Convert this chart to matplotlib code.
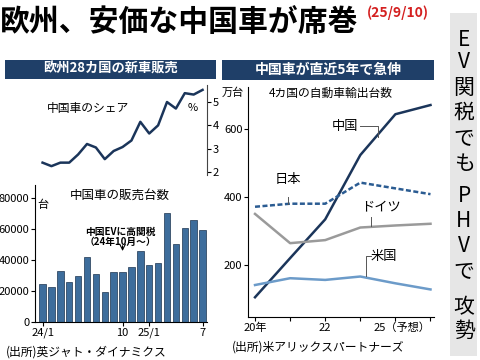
import matplotlib
matplotlib.use("Agg")
import matplotlib.pyplot as plt
from matplotlib.patches import Rectangle

plt.rcParams['font.family'] = ['Noto Sans CJK JP', 'DejaVu Sans']

# --- data ---
share_pct = [2.4, 2.25, 2.4, 2.4, 2.75, 3.2, 3.05, 2.55, 2.9, 3.07, 3.35, 4.15,
             3.65, 4.0, 5.0, 4.72, 5.38, 5.32, 5.52]
sales = [24500, 22500, 33000, 26000, 30000, 42000, 31000, 19500, 32000, 32500,
         35500, 45500, 37000, 38000, 70500, 50500, 60500, 65500, 59500]
month_ticks = [0, 9, 12, 18]
month_labels = ['24/1', '10', '25/1', '7']

years = [2020, 2021, 2022, 2023, 2024, 2025]
china = [105, 220, 334, 523, 643, 670]
japan = [371, 380, 380, 442, 425, 408]
germany = [350, 264, 273, 310, 316, 321]
usa = [141, 161, 156, 166, 146, 128]
year_labels = ['20年', '', '22', '', '', '25（予想）']

W, H = 480, 360
fig = plt.figure(figsize=(4.8, 3.6), dpi=100)


def box(x0, y0, x1, y1):
    # pixel box (top-left origin) -> figure rect
    return [x0 / W, 1 - y1 / H, (x1 - x0) / W, (y1 - y0) / H]


def ftext(x, y, s, **kw):
    fig.text(x / W, 1 - y / H, s, **kw)


navy = '#1b355a'
header = '#1f3f68'
barc = '#3d6d9c'

# title
ftext(0, 22, '欧州、安価な中国車が席巻', fontsize=21.5, fontweight='bold', va='center', ha='left')
ftext(367, 13, '(25/9/10)', fontsize=10, fontweight='bold', color='#d42020', va='center', ha='left')

# vertical side box
fig.patches.append(Rectangle((450 / W, 1 - 356 / H), 27 / W, 343 / H,
                             transform=fig.transFigure, facecolor='#e6e6e6', edgecolor='none'))
side_chars = ['E', 'V', '関', '税', 'で', 'も', 'P', 'H', 'V', 'で', '攻', '勢']
side_y = [40, 62, 88, 113, 139, 164, 196, 221, 246, 272, 307, 331]
for ch, yy in zip(side_chars, side_y):
    ftext(464, yy, ch, fontsize=15, ha='center', va='center')

# header bars
fig.patches.append(Rectangle((5 / W, 1 - 79 / H), 211 / W, 19 / H,
                             transform=fig.transFigure, facecolor=header, edgecolor='none'))
ftext(110, 69, '欧州28カ国の新車販売', fontsize=9.5, fontweight='bold', color='white', ha='center', va='center')
fig.patches.append(Rectangle((222 / W, 1 - 80 / H), 212 / W, 20 / H,
                             transform=fig.transFigure, facecolor=header, edgecolor='none'))
ftext(328, 70, '中国車が直近5年で急伸', fontsize=10, fontweight='bold', color='white', ha='center', va='center')

# --- share line ---
ax1 = fig.add_axes(box(35, 85, 207, 175))
ax1.plot(range(len(share_pct)), share_pct, color=navy, lw=1.8)
ax1.set_xlim(-0.85, 18.5)
ax1.set_ylim(1.87, 5.73)
for s in ['top', 'left', 'bottom']:
    ax1.spines[s].set_visible(False)
ax1.spines['right'].set_color('#444444')
ax1.spines['right'].set_linewidth(0.8)
ax1.yaxis.tick_right()
ax1.set_yticks([2, 3, 4, 5])
ax1.tick_params(axis='y', labelsize=8, length=3, pad=1, width=0.8)
ax1.set_xticks([])
ax1.patch.set_alpha(0)
ftext(47, 108, '中国車のシェア', fontsize=8.5, va='center', ha='left')
ftext(193, 108, '%', fontsize=8, va='center', ha='center')

# --- sales bars ---
ax2 = fig.add_axes(box(35, 185, 207, 322))
ax2.bar(range(len(sales)), sales, width=0.72, color=barc, edgecolor='#1d3550', linewidth=0.5)
ax2.set_xlim(-0.85, 18.5)
ax2.set_ylim(0, 88400)
ax2.spines['top'].set_visible(False)
ax2.spines['right'].set_visible(False)
ax2.set_yticks([0, 20000, 40000, 60000, 80000])
ax2.set_xticks(month_ticks)
ax2.set_xticklabels(month_labels)
ax2.tick_params(labelsize=8, length=3, pad=1, width=0.8)
ax2.patch.set_alpha(0)
ftext(43, 205, '台', fontsize=8, va='center', ha='center')
ftext(120, 195, '中国車の販売台数', fontsize=9, va='center', ha='center')
ftext(120, 232, '中国EVに高関税', fontsize=7, fontweight='bold', va='center', ha='center')
ftext(120, 242, '（24年10月～）', fontsize=7, fontweight='bold', va='center', ha='center')
ax2.annotate('', xy=(9, 44000), xytext=(9, 51000),
             arrowprops=dict(arrowstyle='->', color='black', lw=0.8))
ftext(6, 352, '(出所)英ジャト・ダイナミクス', fontsize=8.5, va='center', ha='left')

# --- exports ---
ax3 = fig.add_axes(box(248, 87, 434, 317))
ax3.plot(years, china, color=navy, lw=1.8)
ax3.plot(years, japan, color='#2b5c92', lw=1.8, ls=(0, (2, 1)))
ax3.plot(years, germany, color='#9a9a9a', lw=1.8)
ax3.plot(years, usa, color='#6c9bc9', lw=1.8)
ax3.set_xlim(2019.8, 2025.1)
ax3.set_ylim(47, 723)
ax3.spines['top'].set_visible(False)
ax3.spines['right'].set_visible(False)
ax3.set_yticks([200, 400, 600])
ax3.set_xticks(years)
ax3.set_xticklabels(year_labels)
ax3.get_xticklabels()[-1].set_ha('right')
ax3.tick_params(labelsize=8, length=3, pad=1, width=0.8)
ax3.patch.set_alpha(0)

# series labels with leader lines
ax3.text(2022.95, 607, '中国', fontsize=9.5, va='center', ha='right')
ax3.plot([2023.0, 2023.5, 2023.5], [607, 607, 575], color='#555555', lw=0.7)
ax3.text(2020.95, 450, '日本', fontsize=9.5, va='center', ha='center')
ax3.plot([2020.95, 2020.95], [400, 380], color='#555555', lw=0.7)
ax3.text(2023.6, 370, 'ドイツ', fontsize=9.5, va='center', ha='center')
ax3.plot([2023.3, 2023.3], [340, 314], color='#555555', lw=0.7)
ax3.text(2023.3, 225, '米国', fontsize=9.5, va='center', ha='left')
ax3.plot([2023.3, 2023.15, 2023.15], [225, 225, 168], color='#555555', lw=0.7)
ftext(233, 93, '万台', fontsize=8, va='center', ha='center')
ftext(331, 93, '4カ国の自動車輸出台数', fontsize=8.5, va='center', ha='center')
ftext(232, 347, '(出所)米アリックスパートナーズ', fontsize=8.5, va='center', ha='left')

fig.savefig('out.png', dpi=100)
